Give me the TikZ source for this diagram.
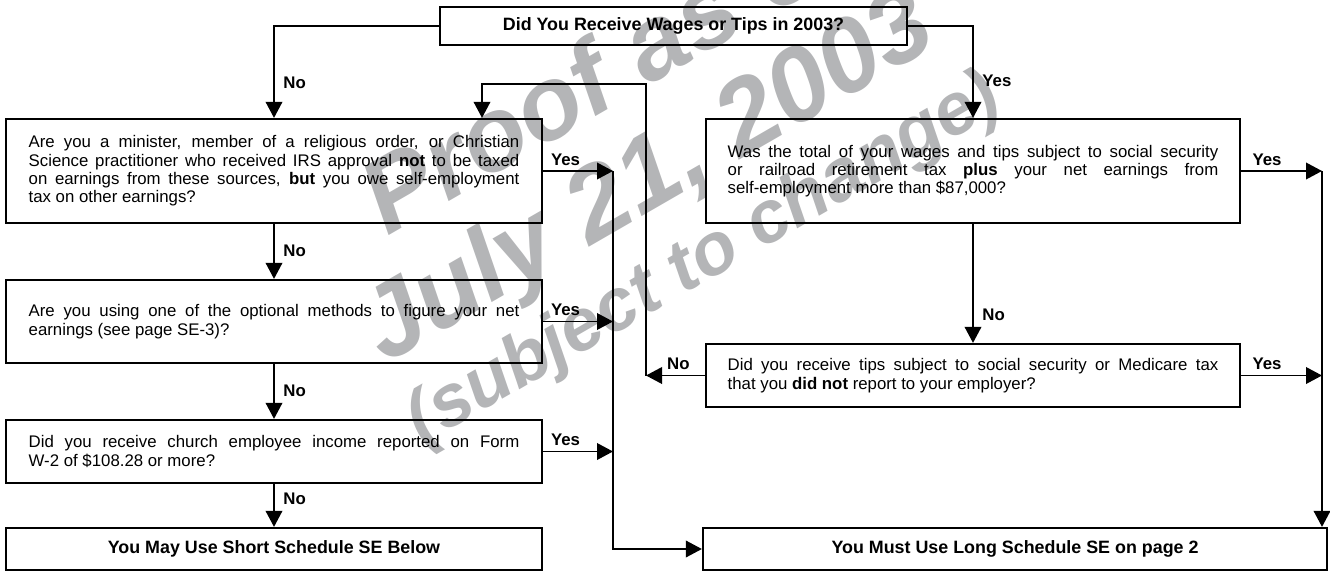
\documentclass[tikz,border=0pt]{standalone}
\usepackage{fontspec}
\setmainfont{Liberation Sans}
\usetikzlibrary{arrows.meta, calc}

\definecolor{wmgray}{RGB}{180,181,183}

\begin{document}
\begin{tikzpicture}[x=0.75pt, y=-0.75pt,
    box/.style={draw, line width=1.7pt, inner sep=0pt, minimum width=402pt},
    qbox/.style={box, text width=368pt, align=justify, font=\fontsize{12.6pt}{13.75pt}\selectfont},
    hbox/.style={box, font=\bfseries\fontsize{13.4pt}{15pt}\selectfont},
    arr/.style={line width=1.1pt, -{Triangle[length=12pt, width=12.5pt]}},
    lbl/.style={font=\bfseries\fontsize{12.6pt}{14pt}\selectfont, inner sep=1pt},
    nolbl/.style={lbl, pos=1, anchor=south west, xshift=5.5pt, yshift=#1},
    nolbl/.default=15pt,
    yeslbl/.style={lbl, pos=0.32, above, yshift=2.5pt},
    wm/.style={text=wmgray, font=\bfseries\itshape\fontsize{#1}{#1}\selectfont, rotate=30, anchor=base}
]
    \useasboundingbox (0,0) rectangle (1330,571);

    \node (wm1) [wm=78pt] at (623,101) {Proof as of};
    \node (wm2) [wm=78pt] at (663,204) {July 21, 2003};
    \node (wm3) [wm=55pt] at (714,277) {(subject to change)};

    \node (top) [hbox, minimum width=350.25pt, minimum height=28.5pt] at (673.5,26) {Did You Receive Wages or Tips in 2003?};
    \node (qmin) [qbox, minimum height=78pt] at (274,171) {Are you a minister, member of a religious order, or Christian\linebreak Science practitioner who received IRS approval \textbf{not} to be taxed\linebreak on earnings from these sources, \textbf{but} you owe self-employment\linebreak tax on other earnings?};
    \node (qopt) [qbox, minimum height=62.25pt] at (274,321.5) {Are you using one of the optional methods to figure your net\linebreak earnings (see page SE-3)?};
    \node (qchurch) [qbox, minimum height=47.25pt] at (274,451.5) {Did you receive church employee income reported on Form\linebreak W-2 of \$108.28 or more?};
    \node (short) [hbox, minimum height=31.5pt] at (274,549) {You May Use Short Schedule SE Below};
    \node (qwage) [qbox, minimum width=400.5pt, minimum height=78pt] at (973,171) {Was the total of your wages and tips subject to social security\linebreak or railroad retirement tax \textbf{plus} your net earnings from\linebreak self-employment more than \$87,000?};
    \node (qtips) [qbox, minimum width=400.5pt, minimum height=47.25pt] at (973,375.5) {Did you receive tips subject to social security or Medicare tax\linebreak that you \textbf{did not} report to your employer?};
    \node (long) [hbox, minimum width=468pt, minimum height=31.5pt] at (1015,549) {You Must Use Long Schedule SE on page 2};

    \coordinate (lbus) at (613,0);
    \coordinate (nbus) at (646,0);
    \coordinate (rbus) at (1322,0);
    \coordinate (loop) at (482,84);

    \draw[arr] (top.west) -| node[nolbl=20pt]{No} (qmin.north);
    \draw[arr] (top.east) -| node[nolbl=22pt]{Yes} (qwage.north);
    \draw[arr] (qmin.south) -- node[nolbl]{No} (qopt.north);
    \draw[arr] (qopt.south) -- node[nolbl]{No} (qchurch.north);
    \draw[arr] (qchurch.south) -- node[nolbl]{No} (short.north);
    \draw[arr] (qwage.south) -- node[nolbl]{No} (qtips.north);

    \draw[arr] (qmin.east) -- node[yeslbl]{Yes} (qmin.east -| lbus);
    \draw[arr] (qopt.east) -- node[yeslbl]{Yes} (qopt.east -| lbus);
    \draw[arr] (qchurch.east) -- node[yeslbl]{Yes} (qchurch.east -| lbus);
    \draw[arr] (qmin.east -| lbus) |- (long.west);

    \draw[arr] (qwage.east) -- node[yeslbl]{Yes} (qwage.east -| rbus);
    \draw[arr] (qtips.east) -- node[yeslbl]{Yes} (qtips.east -| rbus);
    \draw[arr] (qwage.east -| rbus) -- (long.north -| rbus);

    \draw[arr] (qtips.west) -- node[lbl, above, yshift=2.5pt, pos=0.45]{No} (qtips.west -| nbus);
    \draw[arr] (qtips.west -| nbus) |- (loop) -- (loop |- qmin.north);

\end{tikzpicture}
\end{document}
